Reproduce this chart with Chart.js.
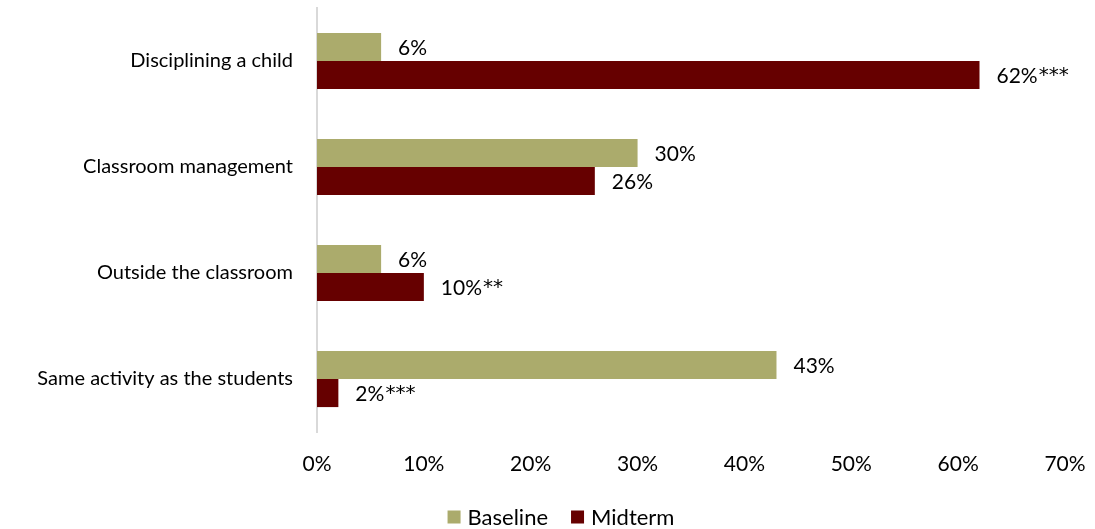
<!DOCTYPE html>
<html>
<head>
<meta charset="utf-8">
<script src="https://cdn.jsdelivr.net/npm/chart.js@4/dist/chart.umd.min.js"></script>
<style>
  html, body { margin: 0; padding: 0; background: #fff; }
  #wrap { width: 1095px; height: 529px; }
</style>
</head>
<body>
<div id="wrap"><canvas id="c" width="1095" height="529"></canvas></div>
<script>
// Categories and series (percent of teachers)
const categories = ['Disciplining a child', 'Classroom management', 'Outside the classroom', 'Same activity as the students'];
const baseline = [6, 30, 6, 43];
const midterm = [62, 26, 10, 2];
// Significance markers shown after the midterm values
const midtermStars = ['***', '', '**', '***'];
const xTicks = [0, 10, 20, 30, 40, 50, 60, 70];

const FONT = 'Lato, "Open Sans", sans-serif';
const FS = 21;

// Writes each bar's value just past its end
const valueLabels = {
  id: 'valueLabels',
  afterDatasetsDraw(chart) {
    const ctx = chart.ctx;
    ctx.save();
    ctx.fillStyle = '#000';
    ctx.textAlign = 'left';
    ctx.textBaseline = 'middle';
    chart.data.datasets.forEach((ds, di) => {
      const meta = chart.getDatasetMeta(di);
      meta.data.forEach((bar, i) => {
        const num = ds.data[i] + '%';
        let x = bar.x + 17;
        ctx.font = FS + 'px ' + FONT;
        ctx.fillText(num, x, bar.y + 1);
        const stars = ds.stars ? ds.stars[i] : '';
        if (stars) {
          x += ctx.measureText(num).width + 1;
          ctx.font = '20px "DejaVu Sans", sans-serif';
          ctx.fillText(stars, x, bar.y + 1);
        }
      });
    });
    ctx.restore();
  }
};

// Legend row centred under the chart
const bottomLegend = {
  id: 'bottomLegend',
  afterDraw(chart) {
    const ctx = chart.ctx;
    ctx.save();
    ctx.font = '22px ' + FONT;
    ctx.textBaseline = 'middle';
    ctx.textAlign = 'left';
    const box = 13, gap = 7, between = 23;
    const items = chart.data.datasets.map(ds => ({ label: ds.label, color: ds.backgroundColor, w: ctx.measureText(ds.label).width }));
    const total = items.reduce((a, it) => a + box + gap + it.w, 0) + between * (items.length - 1);
    let x = 561 - total / 2;
    const y = 517;
    items.forEach(it => {
      ctx.fillStyle = it.color;
      ctx.fillRect(x, y - box / 2, box, box);
      x += box + gap;
      ctx.fillStyle = '#000';
      ctx.fillText(it.label, x, y + 1);
      x += it.w + between;
    });
    ctx.restore();
  }
};

new Chart(document.getElementById('c'), {
  type: 'bar',
  data: {
    labels: categories,
    datasets: [
      { label: 'Baseline', data: baseline, backgroundColor: '#ABAB6C' },
      { label: 'Midterm', data: midterm, stars: midtermStars, backgroundColor: '#660000' }
    ]
  },
  options: {
    indexAxis: 'y',
    responsive: false,
    animation: false,
    layout: { padding: { top: 8, right: 30, left: 0, bottom: 0 } },
    datasets: { bar: { categoryPercentage: 0.53, barPercentage: 1.0 } },
    scales: {
      x: {
        min: 0, max: 70,
        afterBuildTicks(s) { s.ticks = xTicks.map(v => ({ value: v })); },
        afterFit(s) { s.height = 97; s.paddingLeft = 0; s.paddingRight = 0; },
        grid: { display: false, drawTicks: false },
        border: { display: false },
        ticks: { padding: 20, color: '#000', font: { family: FONT, size: FS }, callback: v => v + '%' }
      },
      y: {
        afterFit(s) { s.width = 317; s.paddingTop = 0; s.paddingBottom = 0; },
        grid: { display: false, drawTicks: false },
        border: { display: true, color: '#d9d9d9', width: 2 },
        ticks: { padding: 24, color: '#000', font: { family: FONT, size: 20 } }
      }
    },
    plugins: {
      legend: { display: false },
      tooltip: { enabled: false }
    }
  },
  plugins: [valueLabels, bottomLegend]
});
</script>
</body>
</html>
